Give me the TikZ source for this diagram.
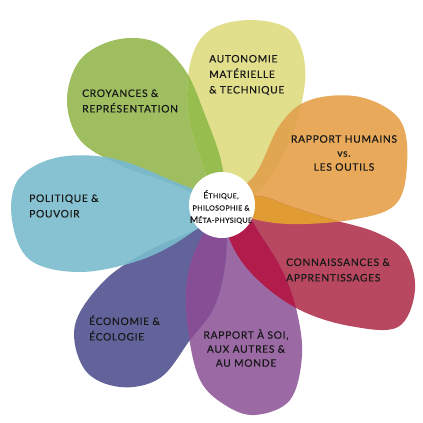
\documentclass[tikz,border=0pt]{standalone}
\usepackage{fontspec}
\setmainfont{Lato}
\newfontfamily\lblfont{Lato}[FakeBold=0.35, LetterSpace=6.5]
\newfontfamily\ctrfont{Lato}[FakeBold=0.3, LetterSpace=5]
\definecolor{cgreen}{RGB}{158,190,96}
\definecolor{cyellow}{RGB}{225,223,140}
\definecolor{corange}{RGB}{232,170,90}
\definecolor{cred}{RGB}{183,72,95}
\definecolor{cpurple}{RGB}{155,106,165}
\definecolor{ceco}{RGB}{98,99,155}
\definecolor{cpol}{RGB}{135,194,210}
\definecolor{xGY}{RGB}{150,189,78}
\definecolor{xGP}{RGB}{122,185,200}
\definecolor{xYO}{RGB}{224,166,82}
\definecolor{xOR}{RGB}{224,156,50}
\definecolor{xRU}{RGB}{178,28,75}
\definecolor{xUE}{RGB}{135,78,150}
\definecolor{xEP}{RGB}{118,178,200}
\tikzset{
  pG/.style={insert path={plot[smooth cycle, tension=0.6] coordinates {(222,205) (175,185) (120,165) (80,140) (67,100) (80,60) (115,40) (155,42) (185,70) (205,115) (222,165)}}},
  pY/.style={insert path={plot[smooth cycle, tension=0.6] coordinates {(222,205) (201,160) (188,110) (191,60) (210,30) (250,20) (290,30) (305,65) (300,110) (283,155) (254,195)}}},
  pO/.style={insert path={plot[smooth cycle, tension=0.6] coordinates {(222,205) (255,175) (280,125) (310,100) (360,97) (400,120) (407,165) (395,205) (350,220) (290,224) (250,218)}}},
  pR/.style={insert path={plot[smooth cycle, tension=0.6] coordinates {(222,202) (258,196) (292,207) (330,219) (375,232) (405,252) (415,290) (398,327) (350,326) (300,310) (258,280) (232,245)}}},
  pU/.style={insert path={plot[smooth cycle, tension=0.6] coordinates {(222,212) (200,240) (187,280) (188,330) (200,380) (225,405) (255,415) (290,400) (302,355) (296,308) (282,270) (262,237) (246,215)}}},
  pE/.style={insert path={plot[smooth cycle, tension=0.6] coordinates {(222,212) (195,230) (150,250) (105,280) (75,325) (85,370) (120,387) (160,378) (190,340) (215,305) (226,255)}}},
  pP/.style={insert path={plot[smooth cycle, tension=0.6] coordinates {(218,205) (170,180) (110,158) (55,158) (18,180) (12,220) (30,260) (80,272) (140,260) (188,235)}}},
  lbl/.style={font=\lblfont\fontsize{10.3}{15.5}\selectfont, text=black!90, inner sep=0pt},
}
\begin{document}
\begin{tikzpicture}[x=1pt,y=-1pt]
\useasboundingbox (0,0) rectangle (423,423);
% petals
\fill[cgreen, pG];
\fill[cyellow, pY];
\fill[corange, pO];
\fill[cred, pR];
\fill[cpurple, pU];
\fill[ceco, pE];
\fill[cpol, pP];
% overlaps
\begin{scope}\clip[pG]; \fill[xGY, pY];\end{scope}
\begin{scope}\clip[pG]; \fill[xGP, pP];\end{scope}
\begin{scope}\clip[pY]; \fill[xYO, pO];\end{scope}
\begin{scope}\clip[pO]; \fill[xOR, pR];\end{scope}
\begin{scope}\clip[pR]; \fill[xRU, pU];\end{scope}
\begin{scope}\clip[pU]; \fill[xUE, pE];\end{scope}
\begin{scope}\clip[pE]; \fill[xEP, pP];\end{scope}
% centre
\node (c) [circle, fill=white, minimum size=66pt, inner sep=0pt] at (222,205) {};
\node (ct) [align=center, inner sep=0pt, font=\ctrfont\fontsize{7.1}{12.2}\selectfont, text=black!90] at (221,207)
  {{\fontsize{8.8}{12.2}\selectfont É}THIQUE,\\PHILOSOPHIE \&\\{\fontsize{8.8}{12.2}\selectfont M}ÉTA-PHYSIQUE};
% labels
\node (t1) [lbl, align=left, anchor=west] at (82,101) {CROYANCES \&\\REPRÉSENTATION};
\node (t2) [lbl, align=left, anchor=west] at (209,75) {AUTONOMIE\\MATÉRIELLE\\\& TECHNIQUE};
\node (t3) [lbl, align=center, font=\lblfont\fontsize{10.3}{14}\selectfont] at (344,153) {RAPPORT HUMAINS\\vs.\\LES OUTILS};
\node (t4) [lbl, align=left, anchor=west] at (286,270) {CONNAISSANCES \&\\APPRENTISSAGES};
\node (t5) [lbl, align=center, font=\lblfont\fontsize{10.3}{14}\selectfont] at (246,348) {RAPPORT À SOI,\\AUX AUTRES \&\\AU MONDE};
\node (t6) [lbl, align=left, anchor=west] at (89,328) {ÉCONOMIE \&\\ÉCOLOGIE};
\node (t7) [lbl, align=left, anchor=west] at (29,206) {POLITIQUE \&\\POUVOIR};
\end{tikzpicture}
\end{document}
